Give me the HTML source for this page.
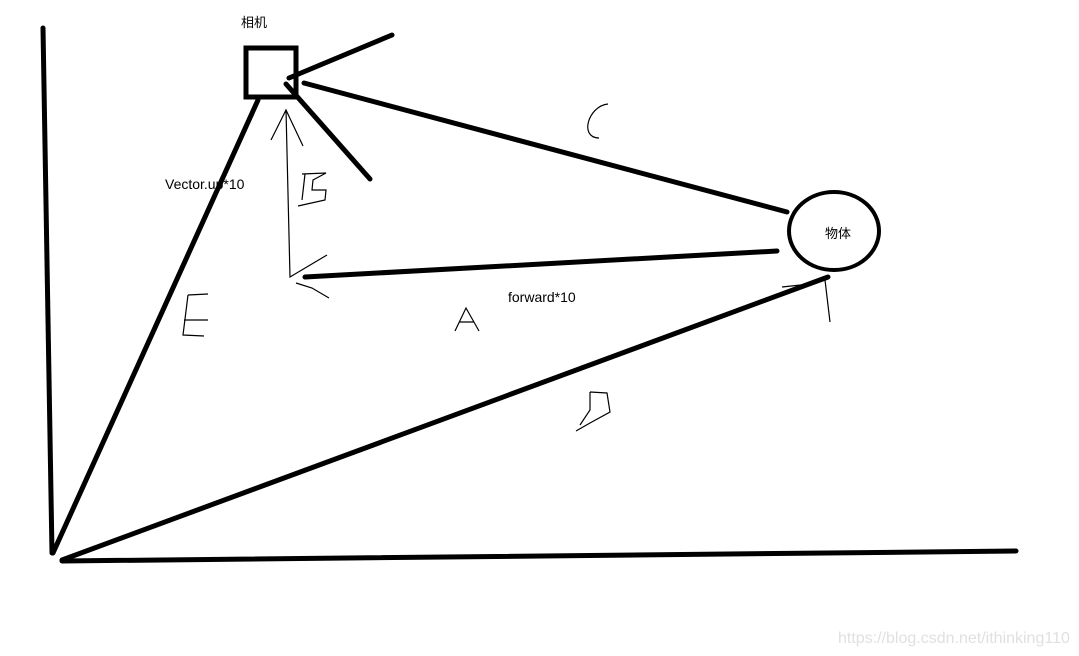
<!DOCTYPE html>
<html><head><meta charset="utf-8"><style>
html,body{margin:0;padding:0;background:#fff;}
svg{display:block}
text{font-family:"Liberation Sans","Noto Sans CJK SC",sans-serif;}
</style></head><body>
<svg width="1079" height="656" viewBox="0 0 1079 656" xmlns="http://www.w3.org/2000/svg">
<g stroke="#000" stroke-width="5" fill="none" stroke-linecap="round">
<rect x="246" y="48" width="50" height="49" stroke-width="5"/>
<line x1="289" y1="78" x2="392" y2="35"/>
<line x1="304" y1="83" x2="787" y2="212"/>
<line x1="286" y1="84" x2="370" y2="179"/>
<line x1="258" y1="100" x2="53" y2="553"/>
<line x1="43" y1="28" x2="52" y2="553"/>
<line x1="62" y1="561" x2="1016" y2="551"/>
<line x1="62" y1="560" x2="828" y2="277"/>
<line x1="305" y1="277" x2="777" y2="251"/>
<ellipse cx="834" cy="231" rx="45" ry="39" stroke-width="4"/>
</g>
<g stroke="#000" stroke-width="1.2" fill="none">
<path d="M286 110 L290 277 L327 255"/>
<path d="M271 140 L286 110 L303 146"/>
<path d="M296 283 L312 288 L329 298"/>
<path d="M302 174 L326 173 L313 180 L312 190 L326 190 L325 200 L298 206"/>
<path d="M305 174 L302 200"/>
<path d="M188 295 L208 294 M188 295 L183 335 L204 336 M184 320 L208 320"/>
<path d="M455 331 L466 308 L479 331 M459 322 L474 322"/>
<path d="M608 104 C588 106 579 138 599 138"/>
<path d="M590 392 L607 393 L610 412 L590 423 L576 431 M590 392 L590 410 L580 425"/>
<path d="M782 287 L810 284 L825 280 L830 322"/>
</g>
<text x="241" y="27" font-size="13" fill="#000">相机</text>
<text x="165" y="189" font-size="14" fill="#000">Vector.up*10</text>
<text x="508" y="302" font-size="14" fill="#000">forward*10</text>
<text x="825" y="238" font-size="13" fill="#000">物体</text>
<text x="838" y="643" font-size="16" fill="#e0e0e0">https://blog.csdn.net/ithinking110</text>
</svg>
</body></html>
